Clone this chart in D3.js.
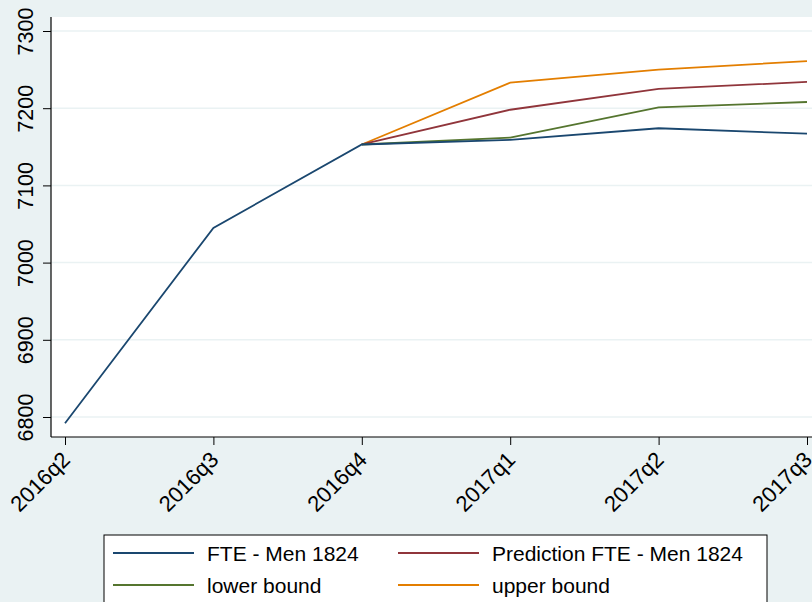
<!DOCTYPE html>
<html>
<head>
<meta charset="utf-8">
<title>FTE - Men 1824</title>
<script src="https://cdn.jsdelivr.net/npm/d3@7"></script>
<style>
body{margin:0;background:#eaf2f3;}
text{font-family:"Liberation Sans",Arial,sans-serif;fill:#000;}
</style>
</head>
<body>
<svg id="chart" width="812" height="602"></svg>
<script>
// quarters on x axis
var quarters = ["2016q2","2016q3","2016q4","2017q1","2017q2","2017q3"];
var yTicks = [6800,6900,7000,7100,7200,7300];

// series (null = no value)
var fte        = [6792,7045,7153,7159,7174,7167];
var prediction = [null,null,7153,7198,7225,7234];
var lowerBound = [null,null,7153,7162,7201,7208];
var upperBound = [null,null,7153,7233,7250,7261];

var seriesNames = ["FTE - Men 1824","Prediction FTE - Men 1824","lower bound","upper bound"];
var seriesColors = ["#1a476f","#90353b","#55752f","#e37e00"];

var svg = d3.select("#chart");
var W = 812, H = 602;

svg.append("rect").attr("width",W).attr("height",H).attr("fill","#eaf2f3");

// plot region
var plot = {left:51, top:17, right:812, bottom:437};
svg.append("rect")
	.attr("x",plot.left).attr("y",plot.top)
	.attr("width",plot.right-plot.left).attr("height",plot.bottom-plot.top)
	.attr("fill","#ffffff");

var x = d3.scalePoint().domain(quarters).range([65,807]);
var y = d3.scaleLinear().domain([6800,7300]).range([417,31]);

// grid
svg.append("g").selectAll("line").data(yTicks).enter().append("line")
	.attr("x1",plot.left).attr("x2",plot.right)
	.attr("y1",function(d){return y(d);}).attr("y2",function(d){return y(d);})
	.attr("stroke","#eaf2f3").attr("stroke-width",1.5);

// lines
var allSeries = [fte,prediction,lowerBound,upperBound];
var line = d3.line()
	.defined(function(d){return d!=null;})
	.x(function(d,i){return x(quarters[i]);})
	.y(function(d){return y(d);});
// draw order: fte on top of lower bound near 2016q4
[3,1,2,0].forEach(function(k){
	svg.append("path").datum(allSeries[k])
		.attr("d",line)
		.attr("fill","none")
		.attr("stroke",seriesColors[k])
		.attr("stroke-width",1.8);
});

// y axis
var yAxis = d3.axisLeft(y).tickValues(yTicks).tickSize(8).tickFormat(d3.format("d"));
var gy = svg.append("g").attr("transform","translate("+plot.left+",0)").call(yAxis);
gy.select(".domain").attr("d","M0,"+plot.top+"V"+plot.bottom).attr("stroke","#000").attr("stroke-width",1.2);
gy.selectAll(".tick line").attr("stroke","#000");
gy.selectAll(".tick text")
	.attr("x",0).attr("y",0).attr("dy",0)
	.attr("transform","translate(-18,0) rotate(-90)")
	.attr("text-anchor","middle")
	.style("font-size","21.5px")
	.style("font-family","'Liberation Sans',Arial,sans-serif");

// x axis
var xAxis = d3.axisBottom(x).tickSize(8);
var gx = svg.append("g").attr("transform","translate(0,"+plot.bottom+")").call(xAxis);
gx.select(".domain").attr("d","M"+plot.left+",0H"+plot.right).attr("stroke","#000").attr("stroke-width",1.2);
gx.selectAll(".tick line").attr("stroke","#000");
gx.selectAll(".tick text")
	.attr("x",0).attr("y",0).attr("dy",0)
	.attr("transform","translate(6,24) rotate(-45)")
	.attr("text-anchor","end")
	.style("font-size","22px")
	.style("font-family","'Liberation Sans',Arial,sans-serif");

// legend
var lg = svg.append("g").attr("transform","translate(104,535)");
lg.append("rect").attr("x",0).attr("y",0).attr("width",663).attr("height",80)
	.attr("fill","#fff").attr("stroke","#000").attr("stroke-width",1);
var legendPos = [[9,18],[294,18],[9,50],[294,50]];
seriesNames.forEach(function(n,i){
	var p = legendPos[i];
	lg.append("line").attr("x1",p[0]).attr("x2",p[0]+81)
		.attr("y1",p[1]).attr("y2",p[1])
		.attr("stroke",seriesColors[i]).attr("stroke-width",1.8);
	lg.append("text").attr("x",p[0]+94).attr("y",p[1]).attr("dy","0.36em")
		.style("font-size","21px").text(n);
});
</script>
</body>
</html>
